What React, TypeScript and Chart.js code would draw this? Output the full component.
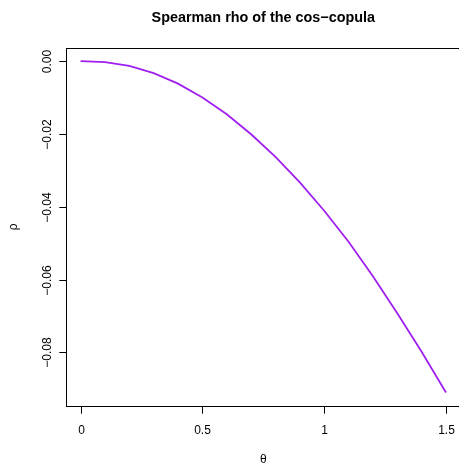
import React, { useEffect, useRef } from "react";
import { Chart, registerables } from "chart.js";

Chart.register(...registerables);

// Spearman's rho of the cos-copula as a function of theta
const thetaValues = [0, 0.1, 0.2, 0.3, 0.4, 0.5, 0.6, 0.7, 0.8, 0.9, 1.0, 1.1, 1.2, 1.3, 1.4, 1.5];
const rhoValues = [
  0, -0.0003, -0.0013, -0.0033, -0.0062, -0.01, -0.0146, -0.0201, -0.0263, -0.0333,
  -0.0411, -0.0496, -0.0591, -0.0692, -0.0798, -0.091,
];

const xTickValues = [0, 0.5, 1, 1.5];
const xTickLabels = ["0", "0.5", "1", "1.5"];
const yTickValues = [0, -0.02, -0.04, -0.06, -0.08];
const yTickLabels = ["0.00", "\u22120.02", "\u22120.04", "\u22120.06", "\u22120.08"];

const titleText = "Spearman rho of the cos\u2212copula";
const xTitle = "\u03b8";
const yTitle = "\u03c1";

const FONT = '"Liberation Sans", Arial, Helvetica, sans-serif';

// R-style axis range: data range widened by 4% on each side
function paddedRange(values: number[]): [number, number] {
  const lo = Math.min(...values);
  const hi = Math.max(...values);
  const pad = (hi - lo) * 0.04;
  return [lo - pad, hi + pad];
}

const baseAxes = {
  id: "baseAxes",
  afterDraw(chart: Chart) {
    const { ctx, chartArea } = chart;
    const xs = chart.scales.x;
    const ys = chart.scales.y;
    ctx.save();
    ctx.strokeStyle = "#000";
    ctx.fillStyle = "#000";
    ctx.lineWidth = 1;

    // plot box
    const l = Math.round(chartArea.left) + 0.5;
    const t = Math.round(chartArea.top) + 0.5;
    const r = Math.round(chartArea.right) + 0.5;
    const b = Math.round(chartArea.bottom) + 0.5;
    ctx.strokeRect(l, t, r - l, b - t);

    // x axis ticks and labels
    ctx.font = `12px ${FONT}`;
    ctx.textAlign = "center";
    ctx.textBaseline = "alphabetic";
    xTickValues.forEach((v, i) => {
      const px = Math.round(xs.getPixelForValue(v)) + 0.5;
      ctx.beginPath();
      ctx.moveTo(px, b);
      ctx.lineTo(px, b + 7.2);
      ctx.stroke();
      ctx.fillText(xTickLabels[i], px, 433.5);
    });

    // y axis ticks and rotated labels
    yTickValues.forEach((v, i) => {
      const py = Math.round(ys.getPixelForValue(v)) + 0.5;
      ctx.beginPath();
      ctx.moveTo(l, py);
      ctx.lineTo(l - 7.2, py);
      ctx.stroke();
      ctx.save();
      ctx.translate(51, py);
      ctx.rotate(-Math.PI / 2);
      ctx.fillText(yTickLabels[i], 0, 0);
      ctx.restore();
    });

    // axis titles
    const cx = (chartArea.left + chartArea.right) / 2;
    const cy = (chartArea.top + chartArea.bottom) / 2;
    ctx.fillText(xTitle, cx, 463);
    ctx.save();
    ctx.translate(16.5, cy);
    ctx.rotate(-Math.PI / 2);
    ctx.fillText(yTitle, 0, 0);
    ctx.restore();

    // main title
    ctx.font = `bold 14.4px ${FONT}`;
    ctx.fillText(titleText, cx, 21.5);
    ctx.restore();
  },
};

export default function App() {
  const canvasRef = useRef<HTMLCanvasElement | null>(null);

  useEffect(() => {
    const canvas = canvasRef.current;
    if (!canvas) return;
    const [xMin, xMax] = paddedRange(thetaValues);
    const [yMin, yMax] = paddedRange(rhoValues);

    const chart = new Chart(canvas, {
      type: "line",
      data: {
        datasets: [
          {
            data: thetaValues.map((x, i) => ({ x, y: rhoValues[i] })),
            borderColor: "#A020F0",
            borderWidth: 1.8,
            pointRadius: 0,
            tension: 0,
            fill: false,
          },
        ],
      },
      options: {
        responsive: false,
        animation: false,
        devicePixelRatio: 1,
        layout: { padding: { left: 66, top: 47.8, right: 5.4, bottom: 58.2 } },
        plugins: {
          legend: { display: false },
          tooltip: { enabled: false },
          title: { display: false },
        },
        scales: {
          x: { type: "linear", min: xMin, max: xMax, display: false },
          y: { type: "linear", min: yMin, max: yMax, display: false },
        },
      },
      plugins: [baseAxes],
    });
    return () => chart.destroy();
  }, []);

  return (
    <div
      style={{
        position: "fixed",
        left: 0,
        top: 0,
        width: 459,
        height: 464,
        overflow: "hidden",
        background: "#fff",
      }}
    >
      <canvas ref={canvasRef} width={466} height={464} style={{ display: "block" }} />
    </div>
  );
}
